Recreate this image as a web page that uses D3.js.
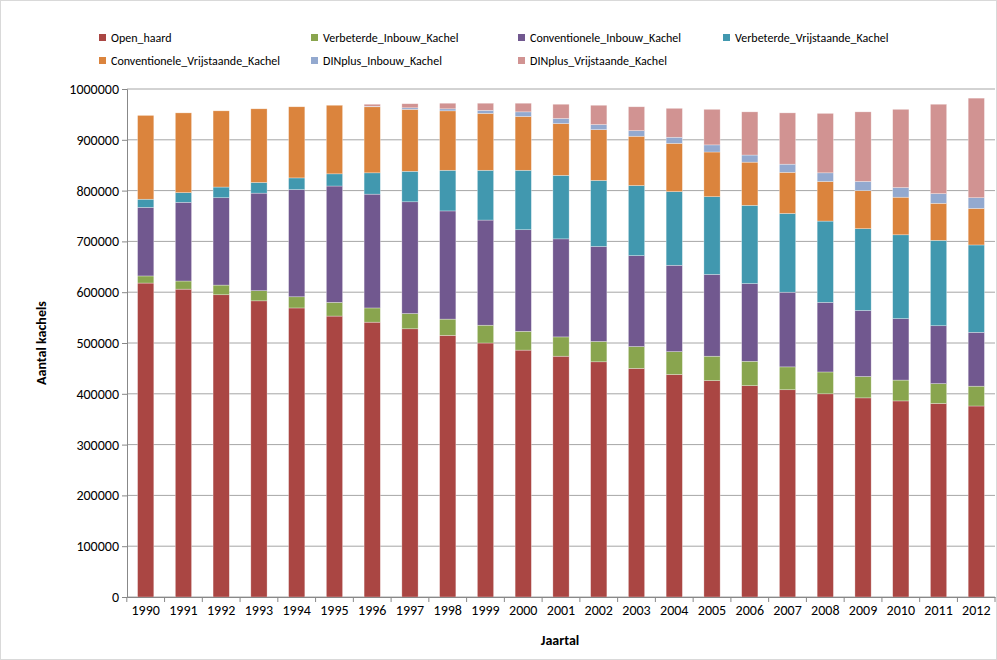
<!DOCTYPE html>
<html><head><meta charset="utf-8">
<script src="https://cdn.jsdelivr.net/npm/d3@7"></script>
<style>
body{margin:0;background:#fff;font-family:Calibri,"Liberation Sans",Arial,sans-serif;}
</style></head><body>
<div id="chart"></div>
<script>
const years = d3.range(1990, 2013).map(String);
const seriesNames = ["Open_haard","Verbeterde_Inbouw_Kachel","Conventionele_Inbouw_Kachel","Verbeterde_Vrijstaande_Kachel","Conventionele_Vrijstaande_Kachel","DINplus_Inbouw_Kachel","DINplus_Vrijstaande_Kachel"];
const colors = ["#AA4643","#89A54E","#71588F","#4198AF","#DB843D","#93A9CF","#D19392"];
// cumulative tops (thousands)
const cumOpen   = [618,606,595,583,569,553,541,528,515,500,486,474,463,450,438,426,416,408,400,392,386,381,376];
const cumVerbIn = [632,622,614,603,591,580,569,558,547,535,523,512,503,493,483,474,464,453,443,434,427,420,415];
const cumConvIn = [767,777,786,795,802,809,793,778,760,742,723,705,690,672,653,635,617,600,580,564,548,534,521];
const cumVerbVr = [783,796,807,816,825,833,835,838,840,840,840,830,820,810,798,788,771,755,740,725,713,702,693];
const cumConvVr = [948,953,957,961,965,968,965,960,957,952,946,932,920,907,893,876,856,836,818,800,787,775,765];
const cumDinIn  = [948,953,957,961,965,968,966,963,961,958,955,942,930,918,905,890,870,852,835,818,806,794,786];
const cumDinVr  = [948,953,957,961,965,968,970,971,972,972,972,970,968,965,962,960,955,953,952,955,960,970,982];
const yTicks = d3.range(0, 1000001, 100000);

const cums = [cumOpen,cumVerbIn,cumConvIn,cumVerbVr,cumConvVr,cumDinIn,cumDinVr];
const data = years.map((y,i) => {
  const row = {year:y}; let prev = 0;
  seriesNames.forEach((s,k) => { row[s] = (cums[k][i]-prev)*1000; prev = cums[k][i]; });
  return row;
});

const W = 997, H = 660;
const m = {left:127, right:2, top:89, bottom:63};
const svg = d3.select("#chart").append("svg").attr("width",W).attr("height",H);
svg.append("rect").attr("x",0.5).attr("y",0.5).attr("width",W-1).attr("height",H-1).attr("fill","none").attr("stroke","#d9d9d9");

const x = d3.scaleBand().domain(years).range([m.left, W-m.right]).paddingInner(0.57).paddingOuter(0.28);
const y = d3.scaleLinear().domain([0,1000000]).range([H-m.bottom, m.top]);

svg.append("g").selectAll("line").data(yTicks).enter().append("line")
  .attr("x1",m.left).attr("x2",W-m.right).attr("y1",d=>y(d)).attr("y2",d=>y(d))
  .attr("stroke","#a6a6a6").attr("stroke-width",1);

const stack = d3.stack().keys(seriesNames)(data);
svg.append("g").selectAll("g").data(stack).enter().append("g")
  .attr("fill",(d,i)=>colors[i])
  .selectAll("rect").data(d=>d).enter().append("rect")
  .attr("x",d=>x(d.data.year)).attr("width",x.bandwidth())
  .attr("y",d=>y(d[1])).attr("height",d=>Math.max(0,y(d[0])-y(d[1])))
  .attr("stroke","rgba(255,255,255,0.5)").attr("stroke-width",0.6);

const ya = svg.append("g").attr("transform",`translate(${m.left},0)`)
  .call(d3.axisLeft(y).tickValues(yTicks).tickSize(5).tickFormat(d3.format("d")));
ya.selectAll("text").attr("font-size",14).attr("fill","#000").attr("font-family","Calibri,'Liberation Sans',Arial,sans-serif");
ya.selectAll("line,path").attr("stroke","#888");

const xa = svg.append("g").attr("transform",`translate(0,${H-m.bottom})`)
  .call(d3.axisBottom(x).tickSize(0).tickPadding(8));
xa.selectAll("text").attr("font-size",14).attr("fill","#000").attr("font-family","Calibri,'Liberation Sans',Arial,sans-serif");
xa.select("path").attr("stroke","#888");
xa.selectAll(".sep").data(years.concat(["end"])).enter().append("line")
  .attr("x1",(d,i)=>i<years.length? x(d)-x.step()*x.paddingInner()/2 : W-m.right)
  .attr("x2",(d,i)=>i<years.length? x(d)-x.step()*x.paddingInner()/2 : W-m.right)
  .attr("y1",0).attr("y2",5).attr("stroke","#888");

svg.append("text").attr("x",560).attr("y",645).attr("text-anchor","middle")
  .attr("font-size",14).attr("font-weight","bold").text("Jaartal");
svg.append("text").attr("transform",`translate(46,${(m.top+H-m.bottom)/2}) rotate(-90)`)
  .attr("text-anchor","middle").attr("font-size",14).attr("font-weight","bold").text("Aantal kachels");

const legX = [99,311,518,723], legY = [38,61];
const leg = svg.append("g").selectAll("g").data(seriesNames).enter().append("g")
  .attr("transform",(d,i)=>`translate(${legX[i%4]},${legY[Math.floor(i/4)]})`);
leg.append("rect").attr("x",0).attr("y",-4).attr("width",7).attr("height",7).attr("fill",(d,i)=>colors[i]);
leg.append("text").attr("x",12).attr("y",4).attr("font-size",12).text(d=>d);
</script></body></html>
